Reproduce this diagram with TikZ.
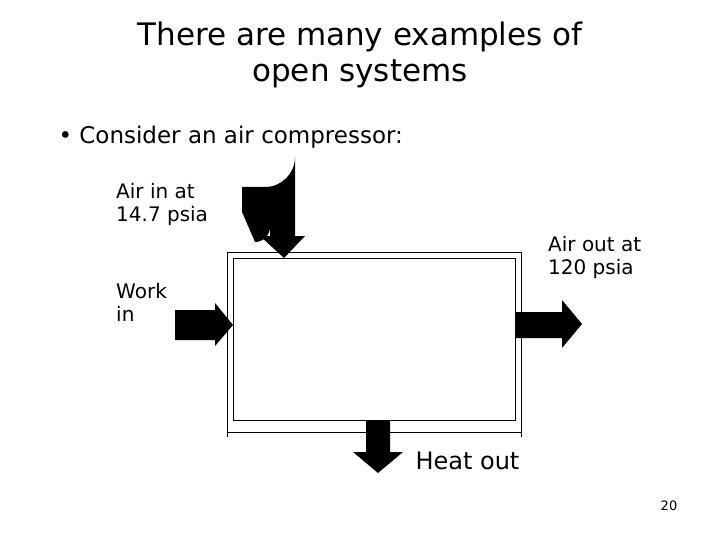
\documentclass[tikz,border=0pt]{standalone}
\usepackage{fontspec}
\setmainfont{DejaVu Sans}
\begin{document}
\begin{tikzpicture}[x=1pt,y=-1pt,
  lbl/.style={font=\fontsize{20}{23}\selectfont,align=left,inner sep=0pt},
  blk/.style={fill=black,draw=none}]
\useasboundingbox (0,0) rectangle (720,540);
\node[font=\fontsize{31}{36}\selectfont,align=center] (title) at (360,55) {There are many examples of\\open systems};
\node[font=\fontsize{23}{27}\selectfont,anchor=west] (bul) at (55,137) {\textbullet\ Consider an air compressor:};
% system box
\draw[line width=0.8pt] (227,437) -- (227,252) -- (521,252) -- (521,437);
\draw[line width=0.8pt] (227,432) -- (521,432);
\draw[line width=1pt] (233,258) rectangle (515,420);
\coordinate (sys) at (374,339);
% air in curved arrow
\fill[blk] (242,187) -- (265,187) arc[start angle=90,end angle=0,radius=30] -- (295,236) -- (305,236) -- (284,258) -- (260,236) -- (270,236) -- (270,227) arc[start angle=0,end angle=90,radius=15] -- (242,212) -- cycle;
% work in
\fill[blk] (175,310) -- (215,310) -- (215,303) -- (233,325) -- (215,346) -- (215,340) -- (175,340) -- cycle;
% air out
\fill[blk] (515,312) -- (562,312) -- (562,300) -- (582,324) -- (562,348) -- (562,338) -- (515,338) -- cycle;
% heat out
\fill[blk] (366,420) -- (390,420) -- (390,452) -- (403,452) -- (378,473) -- (353,452) -- (366,452) -- cycle;
\node[lbl,anchor=north west] (ain) at (116,183) {Air in at\\14.7 psia};
\node[lbl,anchor=north west] (aout) at (548,236) {Air out at\\120 psia};
\node[lbl,anchor=north west] (win) at (116,283) {Work\\in};
\node[font=\fontsize{24}{28}\selectfont,anchor=west] (hout) at (412,461) {Heat out};
\node[font=\fontsize{13}{15}\selectfont] (pg) at (669,506) {20};
\end{tikzpicture}
\end{document}
